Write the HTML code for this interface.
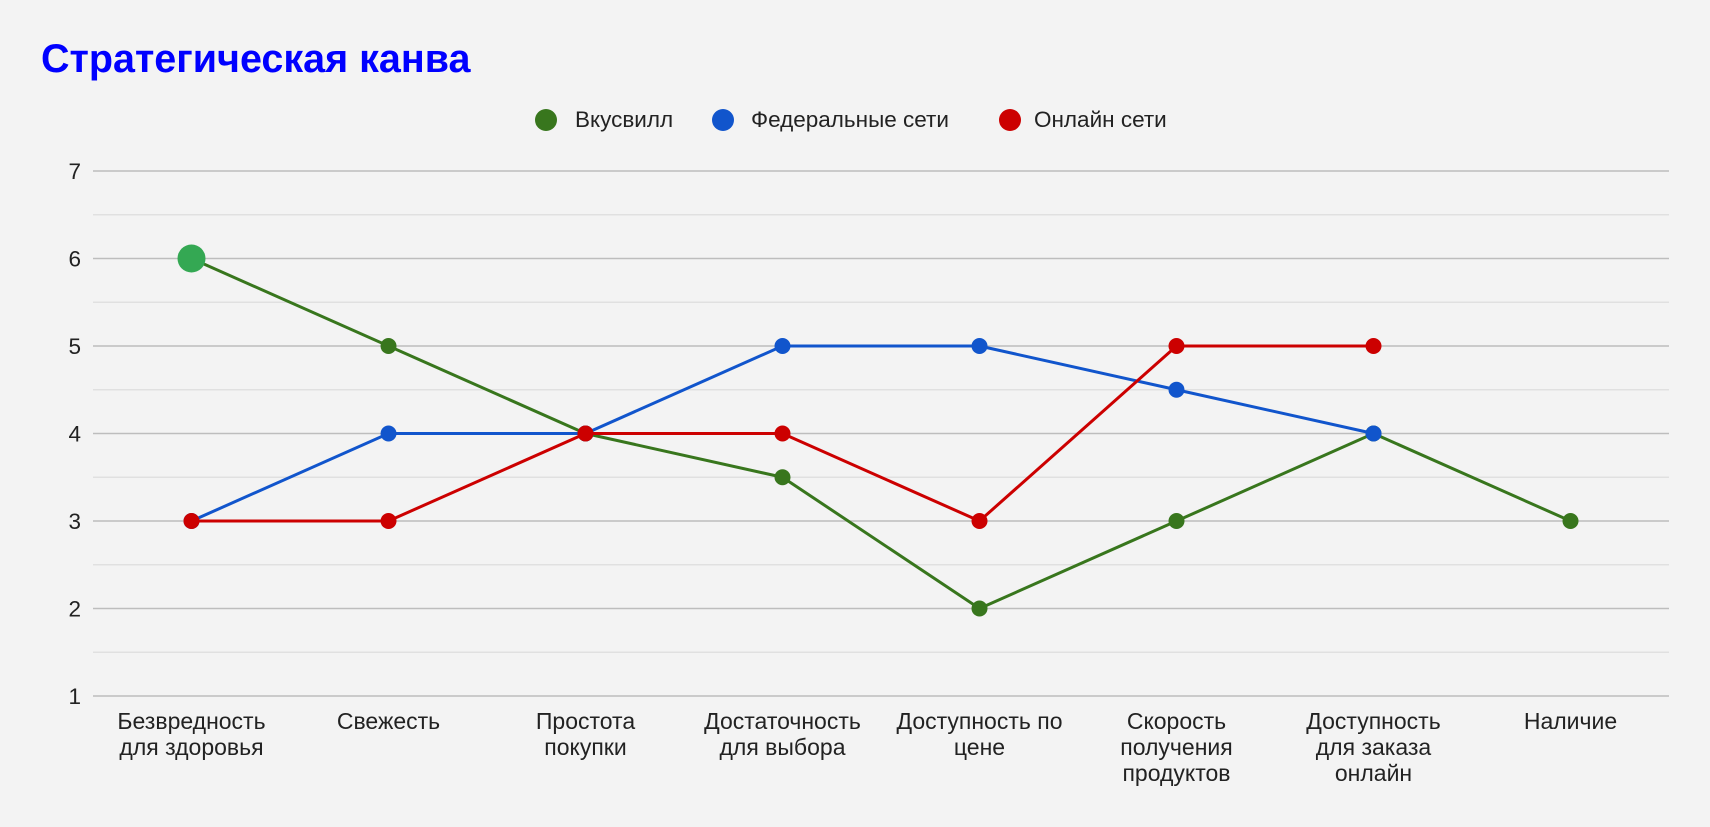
<!DOCTYPE html>
<html><head><meta charset="utf-8"><style>
body{margin:0;background:#f3f3f3;width:1710px;height:822px;overflow:hidden;font-family:"Liberation Sans",Arial,sans-serif}
</style></head><body>
<svg id="chart" width="1710" height="822" xmlns="http://www.w3.org/2000/svg" style="font-family:'Liberation Sans',Arial,sans-serif">
<rect width="1710" height="822" fill="#f3f3f3"/>
<text x="41" y="72" font-size="39.5" font-weight="bold" fill="#0000ff">Стратегическая канва</text>
<g>
<g><circle cx="546" cy="120" r="11" fill="#38761d"/><text x="575" y="127" font-size="22.5" fill="#222">Вкусвилл</text></g>
<g><circle cx="723" cy="120" r="11" fill="#1155cc"/><text x="751" y="127" font-size="22.5" fill="#222">Федеральные сети</text></g>
<g><circle cx="1010" cy="120" r="11" fill="#cc0000"/><text x="1034" y="127" font-size="22.5" fill="#222">Онлайн сети</text></g>
</g>
<g id="grid"></g><g id="xlabels"></g><g id="series"></g>
</svg>
<script>
const categories=[["Безвредность","для здоровья"],["Свежесть"],["Простота","покупки"],["Достаточность","для выбора"],["Доступность по","цене"],["Скорость","получения","продуктов"],["Доступность","для заказа","онлайн"],["Наличие"]];
const vkusvill=[6,5,4,3.5,2,3,4,3];
const federal=[3,4,4,5,5,4.5,4,null];
const online=[3,3,4,4,3,5,5,null];
const yTicks=[1,2,3,4,5,6,7];
const NS="http://www.w3.org/2000/svg";
const L=93,R=1669,T=171,B=696,ymin=1,ymax=7;
const x=i=>L+(R-L)/categories.length*(i+0.5);
const y=v=>B-(v-ymin)/(ymax-ymin)*(B-T);
function mk(tag,attrs,parent){const e=document.createElementNS(NS,tag);for(const k in attrs)e.setAttribute(k,attrs[k]);parent.appendChild(e);return e;}
const grid=document.getElementById('grid');
for(let v=ymin;v<=ymax;v+=0.5){
  const major=Number.isInteger(v);
  const ln=mk('line',{x1:L,x2:R,y1:y(v),y2:y(v),stroke:major?'#bdbdbd':'#dddddd','stroke-width':major?1.5:1.2},grid);
  
  
}
yTicks.forEach(t=>{
  const tx=mk('text',{x:81,y:y(t)+8,'text-anchor':'end','font-size':22.5,fill:'#222'},grid);
  tx.textContent=t;
  
  
});
const xl=document.getElementById('xlabels');
categories.forEach((c,i)=>{
  const tx=mk('text',{x:x(i),y:729,'text-anchor':'middle','font-size':23,fill:'#222'},xl);
  
  
  c.forEach((line,j)=>{const ts=mk('tspan',{x:x(i),dy:j?26:0},tx);ts.textContent=line;});
});
const sg=document.getElementById('series');
function draw(data,color,name){
  const g=mk('g',{},sg);
  
  
  const pts=data.map((v,i)=>v==null?null:[x(i),y(v)]).filter(p=>p);
  const pl=mk('polyline',{points:pts.map(p=>p.join(',')).join(' '),fill:'none',stroke:color,'stroke-width':3,'stroke-linejoin':'round'},g);
  
  
  data.forEach((v,i)=>{if(v==null)return;
    const c=mk('circle',{cx:x(i),cy:y(v),r:8,fill:color},g);
    
    
  });
}
draw(vkusvill,'#38761d','vkusvill');
draw(federal,'#1155cc','federal');
draw(online,'#cc0000','online');
const big=mk('circle',{cx:x(0),cy:y(vkusvill[0]),r:14,fill:'#34a853'},sg);


</script>
</body></html>
